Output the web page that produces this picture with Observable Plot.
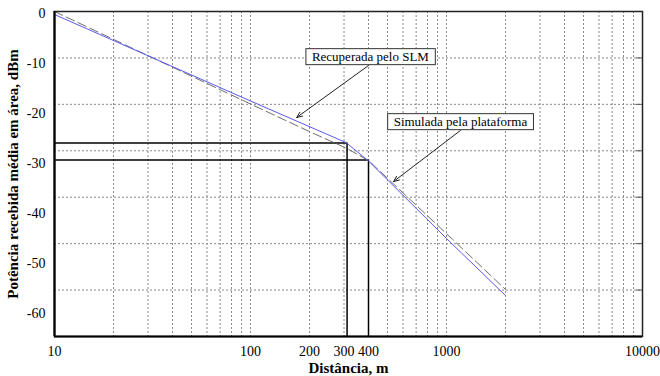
<!DOCTYPE html>
<html>
<head>
<meta charset="utf-8">
<script src="https://cdn.jsdelivr.net/npm/d3@7"></script>
<script src="https://cdn.jsdelivr.net/npm/@observablehq/plot@0.6"></script>
<style>
  html, body { margin: 0; padding: 0; background: #fff; }
  #chart { width: 660px; height: 376px; }
  #chart svg, #chart svg text { font-family: "Liberation Serif", "Times New Roman", serif !important; }
</style>
</head>
<body>
<div id="chart"></div>
<script>
// Distance (m) and received power (dBm)
const simX = [10, 100, 202, 307, 400, 1069, 2000];
const simY = [0, -18.5, -24.1, -27.3, -29.8, -45.5, -55.6];
const recX = [10, 100, 307, 400, 1000, 2000];
const recY = [-0.6, -17.9, -26.2, -29.9, -45.4, -56.8];

// reference (break-point) lines
const refX = [311, 400];
const refY = [-26.3, -29.7];

// tick labels and grid
const xTicks = [10, 100, 200, 300, 400, 1000, 10000];
const yTicks = [0, -10, -20, -30, -40, -50, -60];
const xGrid = [20, 30, 40, 50, 60, 70, 80, 90, 100, 200, 300, 400, 500, 600, 700, 800, 900, 1000,
               2000, 3000, 4000, 5000, 6000, 7000, 8000, 9000];
const yGrid = [-9.29, -18.57, -27.86, -37.14, -46.43, -55.71];

// annotations
const noteLabels = ["Recuperada pelo SLM", "Simulada pela plataforma"];
const noteX = [409, 1178];
const noteY = [-9.1, -22.1];
const arrowFromX = [400, 1178];
const arrowFromY = [-10.8, -23.8];
const arrowToX = [172, 537];
const arrowToY = [-21.2, -34.0];

const sim = simX.map((x, i) => ({x, y: simY[i]}));
const rec = recX.map((x, i) => ({x, y: recY[i]}));
const refs = refX.map((x, i) => ({x, y: refY[i]}));
const notes = noteLabels.map((label, i) => ({
  label, x: noteX[i], y: noteY[i],
  x1: arrowFromX[i], y1: arrowFromY[i], x2: arrowToX[i], y2: arrowToY[i]
}));

const serif = "Liberation Serif, Times New Roman, serif";
const xMax = 10000;

const chart = Plot.plot({
  width: 660,
  height: 376,
  marginLeft: 54,
  marginRight: 18,
  marginTop: 11,
  marginBottom: 40,
  style: {fontFamily: serif, background: "#fff", color: "#000"},
  x: {type: "log", domain: [10, xMax], axis: null},
  y: {domain: [-65, 0], axis: null},
  marks: [
    Plot.ruleX(xGrid, {stroke: "#8a8a8a", strokeWidth: 1, strokeDasharray: "2,2"}),
    Plot.ruleY(yGrid, {stroke: "#8a8a8a", strokeWidth: 1, strokeDasharray: "2,2"}),
    // short inward ticks on the right border
    Plot.ruleY(yGrid, {x1: xMax, x2: xMax, insetLeft: -6, stroke: "#555", strokeWidth: 1}),
    // x tick labels
    Plot.text(xTicks, {x: d => d, frameAnchor: "bottom", dy: 15, lineAnchor: "middle", text: d => String(d), fontSize: 14, fontFamily: serif, fill: "#000"}),
    // y tick labels
    Plot.text(yTicks, {y: d => d, frameAnchor: "left", dx: -9, dy: 2, textAnchor: "end", text: d => String(d), fontSize: 14, fontFamily: serif, fill: "#000"}),
    Plot.ruleY(refs, {y: "y", x1: 10, x2: "x", stroke: "#000", strokeWidth: 1.5}),
    Plot.ruleX(refs, {x: "x", y1: "y", y2: -65, stroke: "#000", strokeWidth: 1.5}),
    Plot.line(sim, {x: "x", y: "y", stroke: "#6e6e6e", strokeWidth: 1, strokeDasharray: "9,4"}),
    Plot.line(rec, {x: "x", y: "y", stroke: "#5a5af0", strokeWidth: 1}),
    Plot.frame({stroke: "#222", strokeWidth: 1.5}),
    Plot.ruleX([10], {stroke: "#000", strokeWidth: 2.2}),
    Plot.ruleY([-65], {stroke: "#000", strokeWidth: 2.2}),
    Plot.arrow(notes, {x1: "x1", y1: "y1", x2: "x2", y2: "y2", stroke: "#222", strokeWidth: 1, headLength: 9, headAngle: 45}),
    Plot.text(notes, {x: "x", y: "y", text: "label", fontSize: 13, fontFamily: serif, fill: "#000"}),
    Plot.text(["Potência recebida média em área, dBm"], {frameAnchor: "left", dx: -41, rotate: -90, textAnchor: "middle", lineAnchor: "middle", fontSize: 15, fontWeight: "bold", fontFamily: serif, fill: "#000"}),
    Plot.text(["Distância, m"], {frameAnchor: "bottom", dy: 32, lineAnchor: "middle", fontSize: 15, fontWeight: "bold", fontFamily: serif, fill: "#000"})
  ]
});

document.getElementById("chart").appendChild(chart);

// draw white boxes behind the annotation labels
const ns = "http://www.w3.org/2000/svg";
Array.from(chart.querySelectorAll("text"))
  .filter(t => noteLabels.includes(t.textContent))
  .forEach(t => {
    const b = t.getBBox();
    const r = document.createElementNS(ns, "rect");
    r.setAttribute("x", b.x - 6);
    r.setAttribute("y", b.y - 0.5);
    r.setAttribute("width", b.width + 12);
    r.setAttribute("height", b.height + 1);
    r.setAttribute("fill", "#fff");
    r.setAttribute("stroke", "#333");
    r.setAttribute("stroke-width", "1");
    const tr = t.getAttribute("transform");
    if (tr) r.setAttribute("transform", tr);
    t.parentNode.insertBefore(r, t);
  });
</script>
</body>
</html>
